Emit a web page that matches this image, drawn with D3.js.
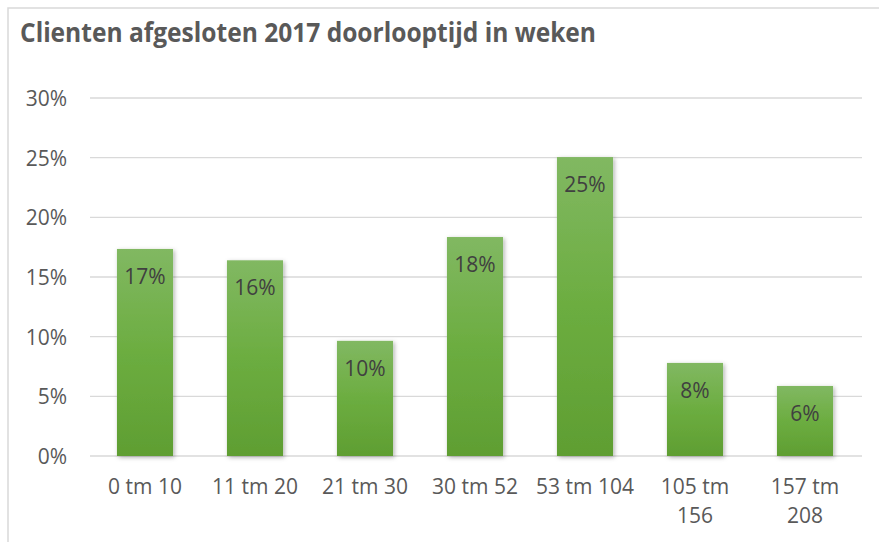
<!DOCTYPE html>
<html><head><meta charset="utf-8">
<script src="https://cdn.jsdelivr.net/npm/d3@7/dist/d3.min.js"></script>
<style>html,body{margin:0;padding:0;background:#fff;}svg{display:block;}</style>
</head><body>
<svg id="c" width="879" height="542"></svg>
<script>
const title = "Clienten afgesloten 2017 doorlooptijd in weken";
const categories = ["0 tm 10","11 tm 20","21 tm 30","30 tm 52","53 tm 104","105 tm 156","157 tm 208"];
const values = [0.1735, 0.164, 0.0965, 0.1835, 0.2505, 0.078, 0.0587];
const yTicks = [0, 0.05, 0.10, 0.15, 0.20, 0.25, 0.30];

const svg = d3.select("#c");
const font = "'Open Sans', sans-serif";

const defs = svg.append("defs");
const grad = defs.append("linearGradient").attr("id","g").attr("x1",0).attr("y1",0).attr("x2",0).attr("y2",1);
grad.append("stop").attr("offset","0%").attr("stop-color","#81b862");
grad.append("stop").attr("offset","50%").attr("stop-color","#6cad40");
grad.append("stop").attr("offset","100%").attr("stop-color","#5f9e32");
const f = defs.append("filter").attr("id","sh").attr("x","-20%").attr("y","-10%").attr("width","150%").attr("height","130%");
f.append("feDropShadow").attr("dx",1.5).attr("dy",1.5).attr("stdDeviation",2).attr("flood-color","#000").attr("flood-opacity",0.3);

// chart border
svg.append("rect").attr("x",8).attr("y",8).attr("width",900).attr("height",560)
  .attr("fill","none").attr("stroke","#d9d9d9").attr("stroke-width",1.5);

// title
const t = svg.append("text").attr("x",20).attr("y",42).attr("font-family",font)
  .attr("font-weight","bold").attr("font-size",26).attr("fill","#595959").text(title);
t.attr("textLength",576).attr("lengthAdjust","spacingAndGlyphs");

const x = d3.scaleBand().domain(categories).range([90,860]).paddingInner(0.49).paddingOuter(0.245);
const y = d3.scaleLinear().domain([0,0.30]).range([456,98]);

// gridlines
svg.append("g").selectAll("line").data(yTicks).join("line")
  .attr("x1",90).attr("x2",862).attr("y1",d=>y(d)).attr("y2",d=>y(d))
  .attr("stroke","#d9d9d9").attr("stroke-width",1.4);

// y axis labels
const yAxis = d3.axisLeft(y).tickValues(yTicks).tickFormat(d3.format(".0%")).tickSize(0).tickPadding(0);
const ya = svg.append("g").attr("transform","translate(67,0)").call(yAxis);
ya.select(".domain").remove();
ya.selectAll("text").attr("font-family",font).attr("font-size",21).attr("fill","#595959").attr("dy","0.36em");

// bars
svg.append("g").selectAll("rect").data(values).join("rect")
  .attr("x",(d,i)=>x(categories[i])).attr("width",x.bandwidth())
  .attr("y",d=>y(d)).attr("height",d=>y(0)-y(d))
  .attr("fill","url(#g)").attr("filter","url(#sh)");

// data labels
svg.append("g").selectAll("text").data(values).join("text")
  .attr("x",(d,i)=>x(categories[i])+x.bandwidth()/2).attr("y",d=>y(d)+35)
  .attr("text-anchor","middle").attr("font-family",font).attr("font-size",21).attr("fill","#404040")
  .text(d=>d3.format(".0%")(d));

// x axis labels with wrapping
const xAxis = d3.axisBottom(x).tickSize(0).tickPadding(0);
const xa = svg.append("g").attr("transform","translate(0,456)").call(xAxis);
xa.select(".domain").remove();
xa.selectAll("text").attr("font-family",font).attr("font-size",21).attr("fill","#595959")
  .attr("y",0).attr("dy",null)
  .each(function(d){
    const el = d3.select(this);
    const words = d.split(" ");
    el.text(null);
    let lines = [], cur = [];
    const tmp = el.append("tspan");
    words.forEach(w=>{
      cur.push(w);
      tmp.text(cur.join(" "));
      if (tmp.node().getComputedTextLength() > 102 && cur.length>1){
        cur.pop(); lines.push(cur.join(" ")); cur=[w];
      }
    });
    lines.push(cur.join(" "));
    tmp.remove();
    lines.forEach((l,i)=>{
      el.append("tspan").attr("x",0).attr("y",38+i*29).text(l);
    });
  });
</script>
</body></html>
